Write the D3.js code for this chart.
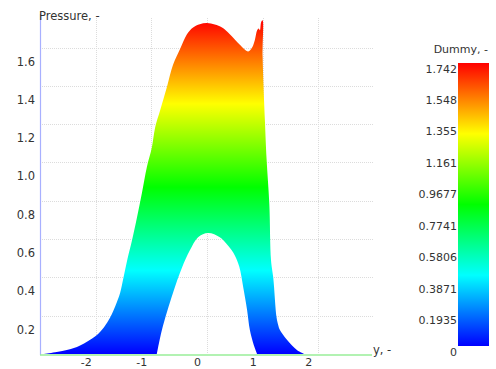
<!DOCTYPE html>
<html>
<head>
<meta charset="utf-8">
<script src="https://cdn.jsdelivr.net/npm/d3@7"></script>
<style>
  body { margin: 0; background: #fff; }
  svg { display: block; }
  text { font-family: "DejaVu Sans", Verdana, sans-serif; fill: #333; }
</style>
</head>
<body>
<svg id="chart" width="496" height="369"></svg>
<script>
// Axis ticks
const xTicks = [-2, -1, 0, 1, 2];
const pTicks = [0.2, 0.4, 0.6, 0.8, 1.0, 1.2, 1.4, 1.6];
const legendTicks = [0, 0.1935, 0.3871, 0.5806, 0.7741, 0.9677, 1.161, 1.355, 1.548, 1.742];
const legendMax = 1.742;

// Colour map: blue -> cyan -> green -> yellow -> red
const colorStops = ["#0000ff", "#00ffff", "#00ff00", "#ffff00", "#ff0000"];

// Upper envelope of the pressure band [y, pressure]
const upperProfile = [
  [-2.92, 0], [-2.7, 0.01], [-2.5, 0.022], [-2.28, 0.045], [-2.0, 0.094],
  [-1.85, 0.14], [-1.74, 0.19], [-1.62, 0.27], [-1.56, 0.32], [-1.5, 0.40],
  [-1.43, 0.495], [-1.35, 0.59], [-1.26, 0.71], [-1.17, 0.84], [-1.08, 0.977],
  [-0.99, 1.08], [-0.93, 1.185], [-0.84, 1.274], [-0.72, 1.394], [-0.61, 1.51],
  [-0.48, 1.595], [-0.36, 1.67], [-0.25, 1.705], [-0.13, 1.722], [0.0, 1.728],
  [0.14, 1.72], [0.27, 1.705], [0.41, 1.67], [0.59, 1.615], [0.74, 1.58],
  [0.81, 1.60], [0.86, 1.64], [0.9, 1.69], [0.93, 1.70], [0.95, 1.69],
  [0.97, 1.73], [0.99, 1.742], [1.0, 1.742], [1.0, 1.55], [1.04, 1.22],
  [1.07, 1.02], [1.12, 0.78], [1.15, 0.49], [1.19, 0.40], [1.25, 0.19],
  [1.28, 0.15], [1.31, 0.125], [1.44, 0.073], [1.62, 0.02], [1.75, 0]
];

// Lower envelope of the pressure band [y, pressure]
const lowerProfile = [
  [-0.9, 0], [-0.81, 0.125], [-0.61, 0.32], [-0.45, 0.45], [-0.31, 0.54],
  [-0.16, 0.61], [0.02, 0.632], [0.23, 0.61], [0.38, 0.565], [0.5, 0.515],
  [0.58, 0.455], [0.65, 0.35], [0.72, 0.23], [0.77, 0.125], [0.84, 0.047], [0.9, 0]
];

const svg = d3.select("#chart");

const x = d3.scaleLinear().domain([-3, 3]).range([40, 374]);
const y = d3.scaleLinear().domain([0, legendMax]).range([354, 20.4]);

// Grid
const grid = svg.append("g").attr("stroke", "#dcdcdc").attr("stroke-width", 1)
  .attr("stroke-dasharray", "1,1");
grid.selectAll("line.h").data(pTicks).join("line")
  .attr("x1", 40).attr("x2", 373)
  .attr("y1", d => Math.round(y(d)) + 0.5).attr("y2", d => Math.round(y(d)) + 0.5);
grid.selectAll("line.v").data(xTicks).join("line")
  .attr("x1", d => Math.round(x(d)) + 0.5).attr("x2", d => Math.round(x(d)) + 0.5)
  .attr("y1", 18).attr("y2", 354);

// Vertical colour gradient following pressure
const defs = svg.append("defs");
const grad = defs.append("linearGradient").attr("id", "pgrad")
  .attr("gradientUnits", "userSpaceOnUse")
  .attr("x1", 0).attr("x2", 0).attr("y1", y(0)).attr("y2", y(legendMax));
grad.selectAll("stop").data(colorStops).join("stop")
  .attr("offset", (d, i) => i / (colorStops.length - 1))
  .attr("stop-color", d => d);

const legGrad = defs.append("linearGradient").attr("id", "lgrad")
  .attr("x1", 0).attr("x2", 0).attr("y1", 1).attr("y2", 0);
legGrad.selectAll("stop").data(colorStops).join("stop")
  .attr("offset", (d, i) => i / (colorStops.length - 1))
  .attr("stop-color", d => d);

// Band between lower and upper envelopes
const line = d3.line().x(d => x(d[0])).y(d => y(d[1]))
  .curve(d3.curveCatmullRom.alpha(0.5));
const upperPath = line(upperProfile);
const lowerPath = line(lowerProfile.slice().reverse());
svg.append("path")
  .attr("d", upperPath + "L" + lowerPath.slice(1) + "Z")
  .attr("fill", "url(#pgrad)");

// Axes lines
svg.append("line").attr("x1", 40.5).attr("x2", 40.5).attr("y1", 14).attr("y2", 355)
  .attr("stroke", "#a8b0ff").attr("stroke-width", 1.2);
svg.append("line").attr("x1", 40).attr("x2", 372).attr("y1", 355).attr("y2", 355)
  .attr("stroke", "#99ee99").attr("stroke-width", 1.5);

// Tick labels
svg.append("g").selectAll("text").data(pTicks).join("text")
  .attr("x", 35).attr("y", d => y(d) + 14)
  .attr("text-anchor", "end").attr("dominant-baseline", "central")
  .attr("font-size", 11.5)
  .text(d => d.toFixed(1));
svg.append("g").selectAll("text").data(xTicks).join("text")
  .attr("x", d => x(d) - 9.5).attr("y", 362)
  .attr("text-anchor", "middle").attr("dominant-baseline", "central")
  .attr("font-size", 11)
  .text(d => String(d));

svg.append("text").attr("x", 39).attr("y", 16)
  .attr("dominant-baseline", "central").attr("font-size", 11.5)
  .text("Pressure, -");
svg.append("text").attr("x", 373).attr("y", 350)
  .attr("dominant-baseline", "central").attr("font-size", 11.5)
  .text("y, -");

// Colour bar
const cy = d3.scaleLinear().domain([0, legendMax]).range([346, 63]);
svg.append("rect").attr("x", 458).attr("y", cy(legendMax))
  .attr("width", 31).attr("height", cy(0) - cy(legendMax))
  .attr("fill", "url(#lgrad)");
svg.append("g").selectAll("text").data(legendTicks).join("text")
  .attr("x", 457).attr("y", d => cy(d) + 6)
  .attr("text-anchor", "end").attr("dominant-baseline", "central")
  .attr("font-size", 11)
  .text(d => String(d));
svg.append("text").attr("x", 488).attr("y", 49)
  .attr("text-anchor", "end").attr("dominant-baseline", "central")
  .attr("font-size", 11)
  .text("Dummy, -");
</script>
</body>
</html>
